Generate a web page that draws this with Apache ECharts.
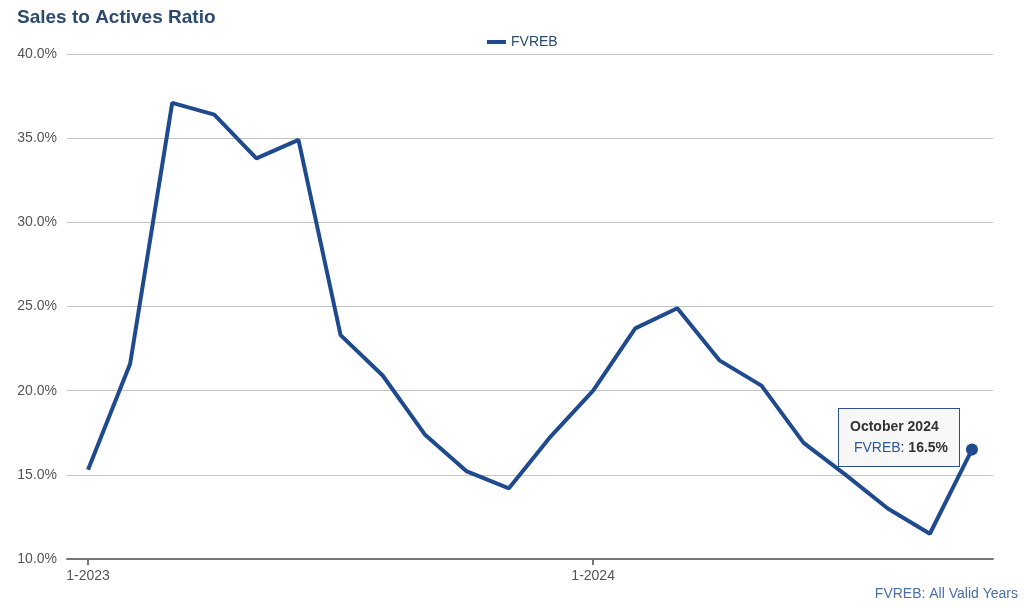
<!DOCTYPE html>
<html><head><meta charset="utf-8">
<script src="https://cdn.jsdelivr.net/npm/echarts@6/dist/echarts.min.js"></script>
<style>html,body{margin:0;padding:0;background:#fff}#c{width:1024px;height:608px}</style>
</head><body><div id="c"></div>
<script>
const categories = ['1-2023','2-2023','3-2023','4-2023','5-2023','6-2023','7-2023','8-2023','9-2023','10-2023','11-2023','12-2023',
 '1-2024','2-2024','3-2024','4-2024','5-2024','6-2024','7-2024','8-2024','9-2024','10-2024'];
const monthNames = ['January','February','March','April','May','June','July','August','September','October','November','December'];
const fvreb = [15.3,21.6,37.1,36.4,33.8,34.9,23.3,20.9,17.4,15.2,14.2,17.3,20.0,23.7,24.9,21.8,20.3,16.9,15.0,13.0,11.5,16.5];
const yTicks = [10,15,20,25,30,35,40];
const lineColor = '#1f4b8e';

const chart = echarts.init(document.getElementById('c'), null, {renderer:'canvas'});
const seriesData = fvreb.map((v,i)=> i===fvreb.length-1 ? {value:v, symbol:'circle', symbolSize:11} : v);
chart.setOption({
  animation:false,
  title:{text:'Sales to Actives Ratio', left:12, top:3, textStyle:{fontFamily:'Liberation Sans, Arial', fontSize:19, fontWeight:'bold', color:'#2c4a6e'}},
  legend:{top:30, left:482, itemWidth:19, itemHeight:4, itemGap:10, icon:'rect', textStyle:{fontFamily:'Liberation Sans, Arial', fontSize:14, color:'#2c4a6e'}, data:['FVREB']},
  grid:{left:67, right:31, top:54, bottom:49},
  tooltip:{trigger:'axis', alwaysShowContent:true, showContent:true, axisPointer:{type:'none'},
    position:[838,408], backgroundColor:'#f7f7f7', borderColor:'#2c4f8f', borderWidth:1, padding:[7,11,8,11],
    extraCssText:'border-radius:0;box-shadow:none;line-height:21px;',
    formatter:function(p){const i=p[0].dataIndex;const parts=categories[i].split('-');
      return '<div style="font-family:Liberation Sans,Arial;font-size:14px;color:#333"><b>'+monthNames[+parts[0]-1]+' '+parts[1]+'</b><br>&nbsp;<span style="color:#2c56a0">FVREB</span>: <b>'+p[0].value.toFixed(1)+'%</b></div>';}},
  xAxis:{type:'category', data:categories, boundaryGap:true,
    axisLine:{lineStyle:{color:'#777', width:2}},
    axisTick:{show:true, alignWithLabel:true, interval:11, length:6, lineStyle:{color:'#777', width:2}},
    axisLabel:{interval:11, fontFamily:'Liberation Sans, Arial', fontSize:14, color:'#555', margin:10}},
  yAxis:{type:'value', min:10, max:40, interval:5,
    axisLine:{show:false}, axisTick:{show:false},
    splitLine:{lineStyle:{color:'#c4c4c4', width:1}},
    axisLabel:{formatter:function(v){return yTicks.includes(v)? v.toFixed(1)+'%':'';}, fontFamily:'Liberation Sans, Arial', fontSize:14, color:'#555', margin:10}},
  graphic:[{type:'text', right:6, bottom:7, style:{text:'FVREB: All Valid Years', fontFamily:'Liberation Sans, Arial', fontSize:14, fill:'#4a6fa8'}}],
  series:[{name:'FVREB', type:'line', data:seriesData, symbol:'none', showSymbol:true,
    lineStyle:{color:lineColor, width:4}, itemStyle:{color:lineColor}, emphasis:{disabled:true}}]
});
chart.dispatchAction({type:'showTip', seriesIndex:0, dataIndex:fvreb.length-1});
</script></body></html>
